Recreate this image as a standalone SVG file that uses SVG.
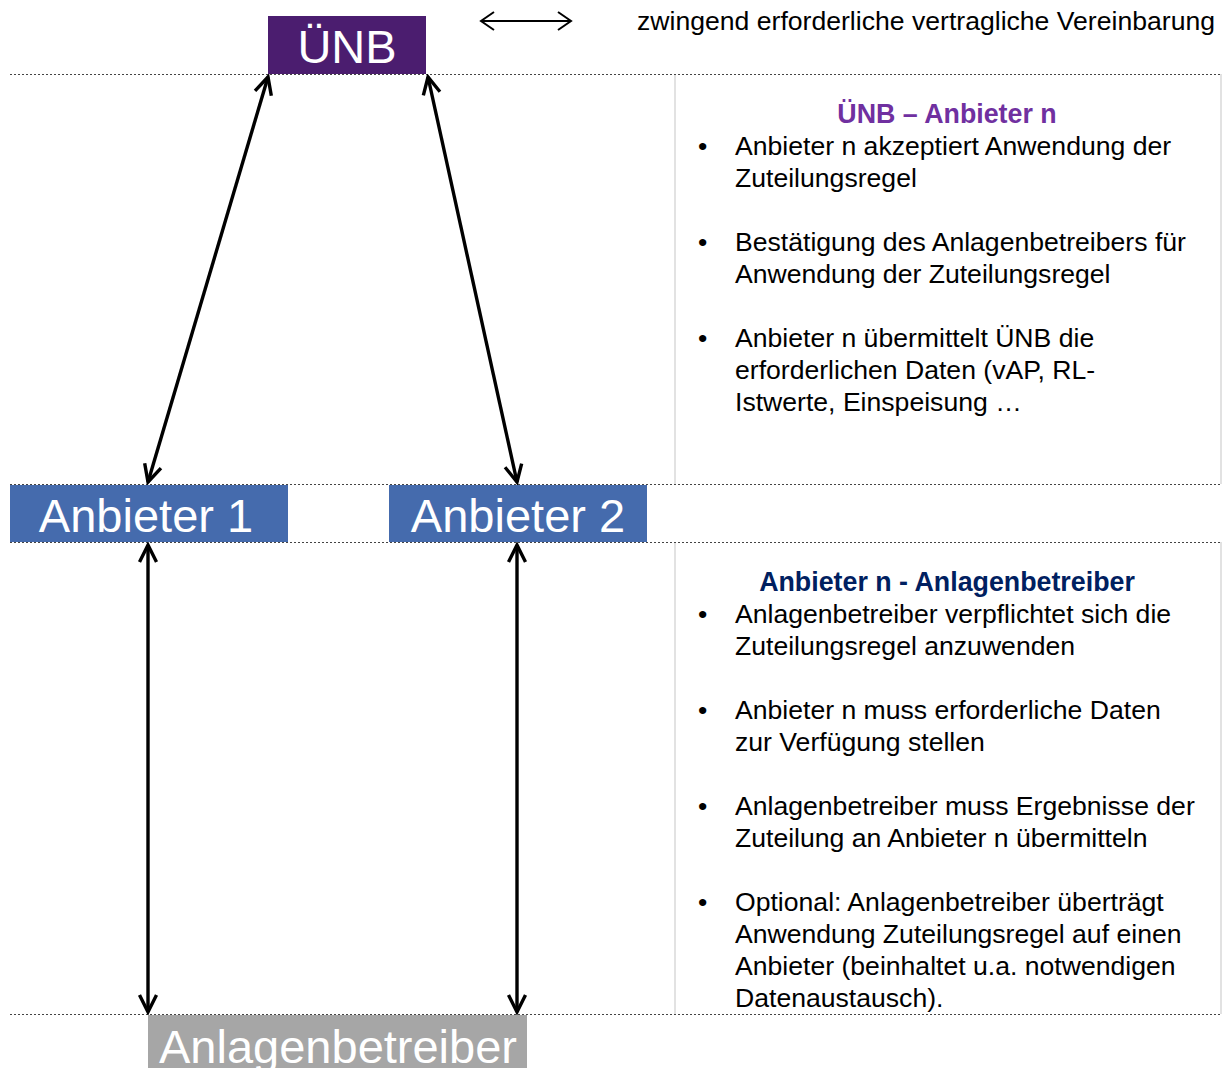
<svg xmlns="http://www.w3.org/2000/svg" width="1227" height="1068" viewBox="0 0 1227 1068">
<style>
.sep{stroke:#444;stroke-width:1;stroke-dasharray:2,2;fill:none}
.pb{stroke:#D9D9D9;stroke-width:1.5;fill:none}
.big{font-family:"Liberation Sans",Arial,sans-serif;font-size:47px;fill:#fff}
.t{font-family:"Liberation Sans",Arial,sans-serif;font-size:26.6px;fill:#000}
.h{font-family:"Liberation Sans",Arial,sans-serif;font-size:26.8px;font-weight:bold;text-anchor:middle}
.con{stroke:#000;stroke-width:3.4;fill:none;marker-start:url(#ah);marker-end:url(#ah)}
</style>
<defs>
<marker id="ah" markerUnits="userSpaceOnUse" markerWidth="24" markerHeight="24" viewBox="0 0 24 24" refX="21" refY="12" orient="auto-start-reverse">
<path d="M4,3.5 L21,12 L4,20.5" fill="none" stroke="#000" stroke-width="3.4"/>
</marker>
<marker id="ahl" markerUnits="userSpaceOnUse" markerWidth="24" markerHeight="24" viewBox="0 0 24 24" refX="21" refY="12" orient="auto-start-reverse">
<path d="M8,3 L21,12 L8,21" fill="none" stroke="#000" stroke-width="2"/>
</marker>
</defs>
<rect width="1227" height="1068" fill="#fff"/>
<g id="panels">
<line class="pb" x1="675" y1="74" x2="675" y2="484"/>
<line class="pb" x1="1221" y1="74" x2="1221" y2="484"/>
<line class="pb" x1="675" y1="542" x2="675" y2="1014"/>
<line class="pb" x1="1221" y1="542" x2="1221" y2="1014"/>
</g>
<g id="separators">
<line class="sep" x1="10" y1="74.5" x2="1222" y2="74.5"/>
<line class="sep" x1="10" y1="484.5" x2="1222" y2="484.5"/>
<line class="sep" x1="10" y1="542.5" x2="1222" y2="542.5"/>
<line class="sep" x1="10" y1="1014.5" x2="1222" y2="1014.5"/>
</g>
<g id="uenb">
<rect x="268" y="16" width="158" height="58" fill="#4B1D6F"/>
<text class="big" x="347" y="63" text-anchor="middle">ÜNB</text>
</g>
<g id="anbieter1">
<rect x="10" y="485" width="278" height="57" fill="#456BAD"/>
<text class="big" x="146" y="532" text-anchor="middle">Anbieter 1</text>
</g>
<g id="anbieter2">
<rect x="389" y="485" width="258" height="57" fill="#456BAD"/>
<text class="big" x="518" y="532" text-anchor="middle">Anbieter 2</text>
</g>
<g id="anlagenbetreiber">
<rect x="148" y="1015" width="379" height="53" fill="#A6A6A6"/>
<text class="big" x="338" y="1063" text-anchor="middle">Anlagenbetreiber</text>
</g>
<g id="legend">
<line x1="481" y1="21" x2="571" y2="21" stroke="#000" stroke-width="2" marker-start="url(#ahl)" marker-end="url(#ahl)"/>
<text class="t" x="637" y="30">zwingend erforderliche vertragliche Vereinbarung</text>
</g>
<g id="connectors">
<line class="con" x1="268" y1="77" x2="148" y2="482"/>
<line class="con" x1="428" y1="77" x2="517" y2="482"/>
<line class="con" x1="148" y1="545" x2="148" y2="1012"/>
<line class="con" x1="517" y1="545" x2="517" y2="1012"/>
</g>
<g id="text-uenb-anbieter">
<text class="h" x="947" y="123" fill="#7030A0">ÜNB – Anbieter n</text>
<g class="t">
<text x="698" y="155">•</text>
<text x="735" y="155">Anbieter n akzeptiert Anwendung der</text>
<text x="735" y="187">Zuteilungsregel</text>
<text x="698" y="251">•</text>
<text x="735" y="251">Bestätigung des Anlagenbetreibers für</text>
<text x="735" y="283">Anwendung der Zuteilungsregel</text>
<text x="698" y="347">•</text>
<text x="735" y="347">Anbieter n übermittelt ÜNB die</text>
<text x="735" y="379">erforderlichen Daten (vAP, RL-</text>
<text x="735" y="411">Istwerte, Einspeisung …</text>
</g>
</g>
<g id="text-anbieter-anlagenbetreiber">
<text class="h" x="947" y="591" fill="#002060">Anbieter n - Anlagenbetreiber</text>
<g class="t">
<text x="698" y="623">•</text>
<text x="735" y="623">Anlagenbetreiber verpflichtet sich die</text>
<text x="735" y="655">Zuteilungsregel anzuwenden</text>
<text x="698" y="719">•</text>
<text x="735" y="719">Anbieter n muss erforderliche Daten</text>
<text x="735" y="751">zur Verfügung stellen</text>
<text x="698" y="815">•</text>
<text x="735" y="815">Anlagenbetreiber muss Ergebnisse der</text>
<text x="735" y="847">Zuteilung an Anbieter n übermitteln</text>
<text x="698" y="911">•</text>
<text x="735" y="911">Optional: Anlagenbetreiber überträgt</text>
<text x="735" y="943">Anwendung Zuteilungsregel auf einen</text>
<text x="735" y="975">Anbieter (beinhaltet u.a. notwendigen</text>
<text x="735" y="1007">Datenaustausch).</text>
</g>
</g>
</svg>
